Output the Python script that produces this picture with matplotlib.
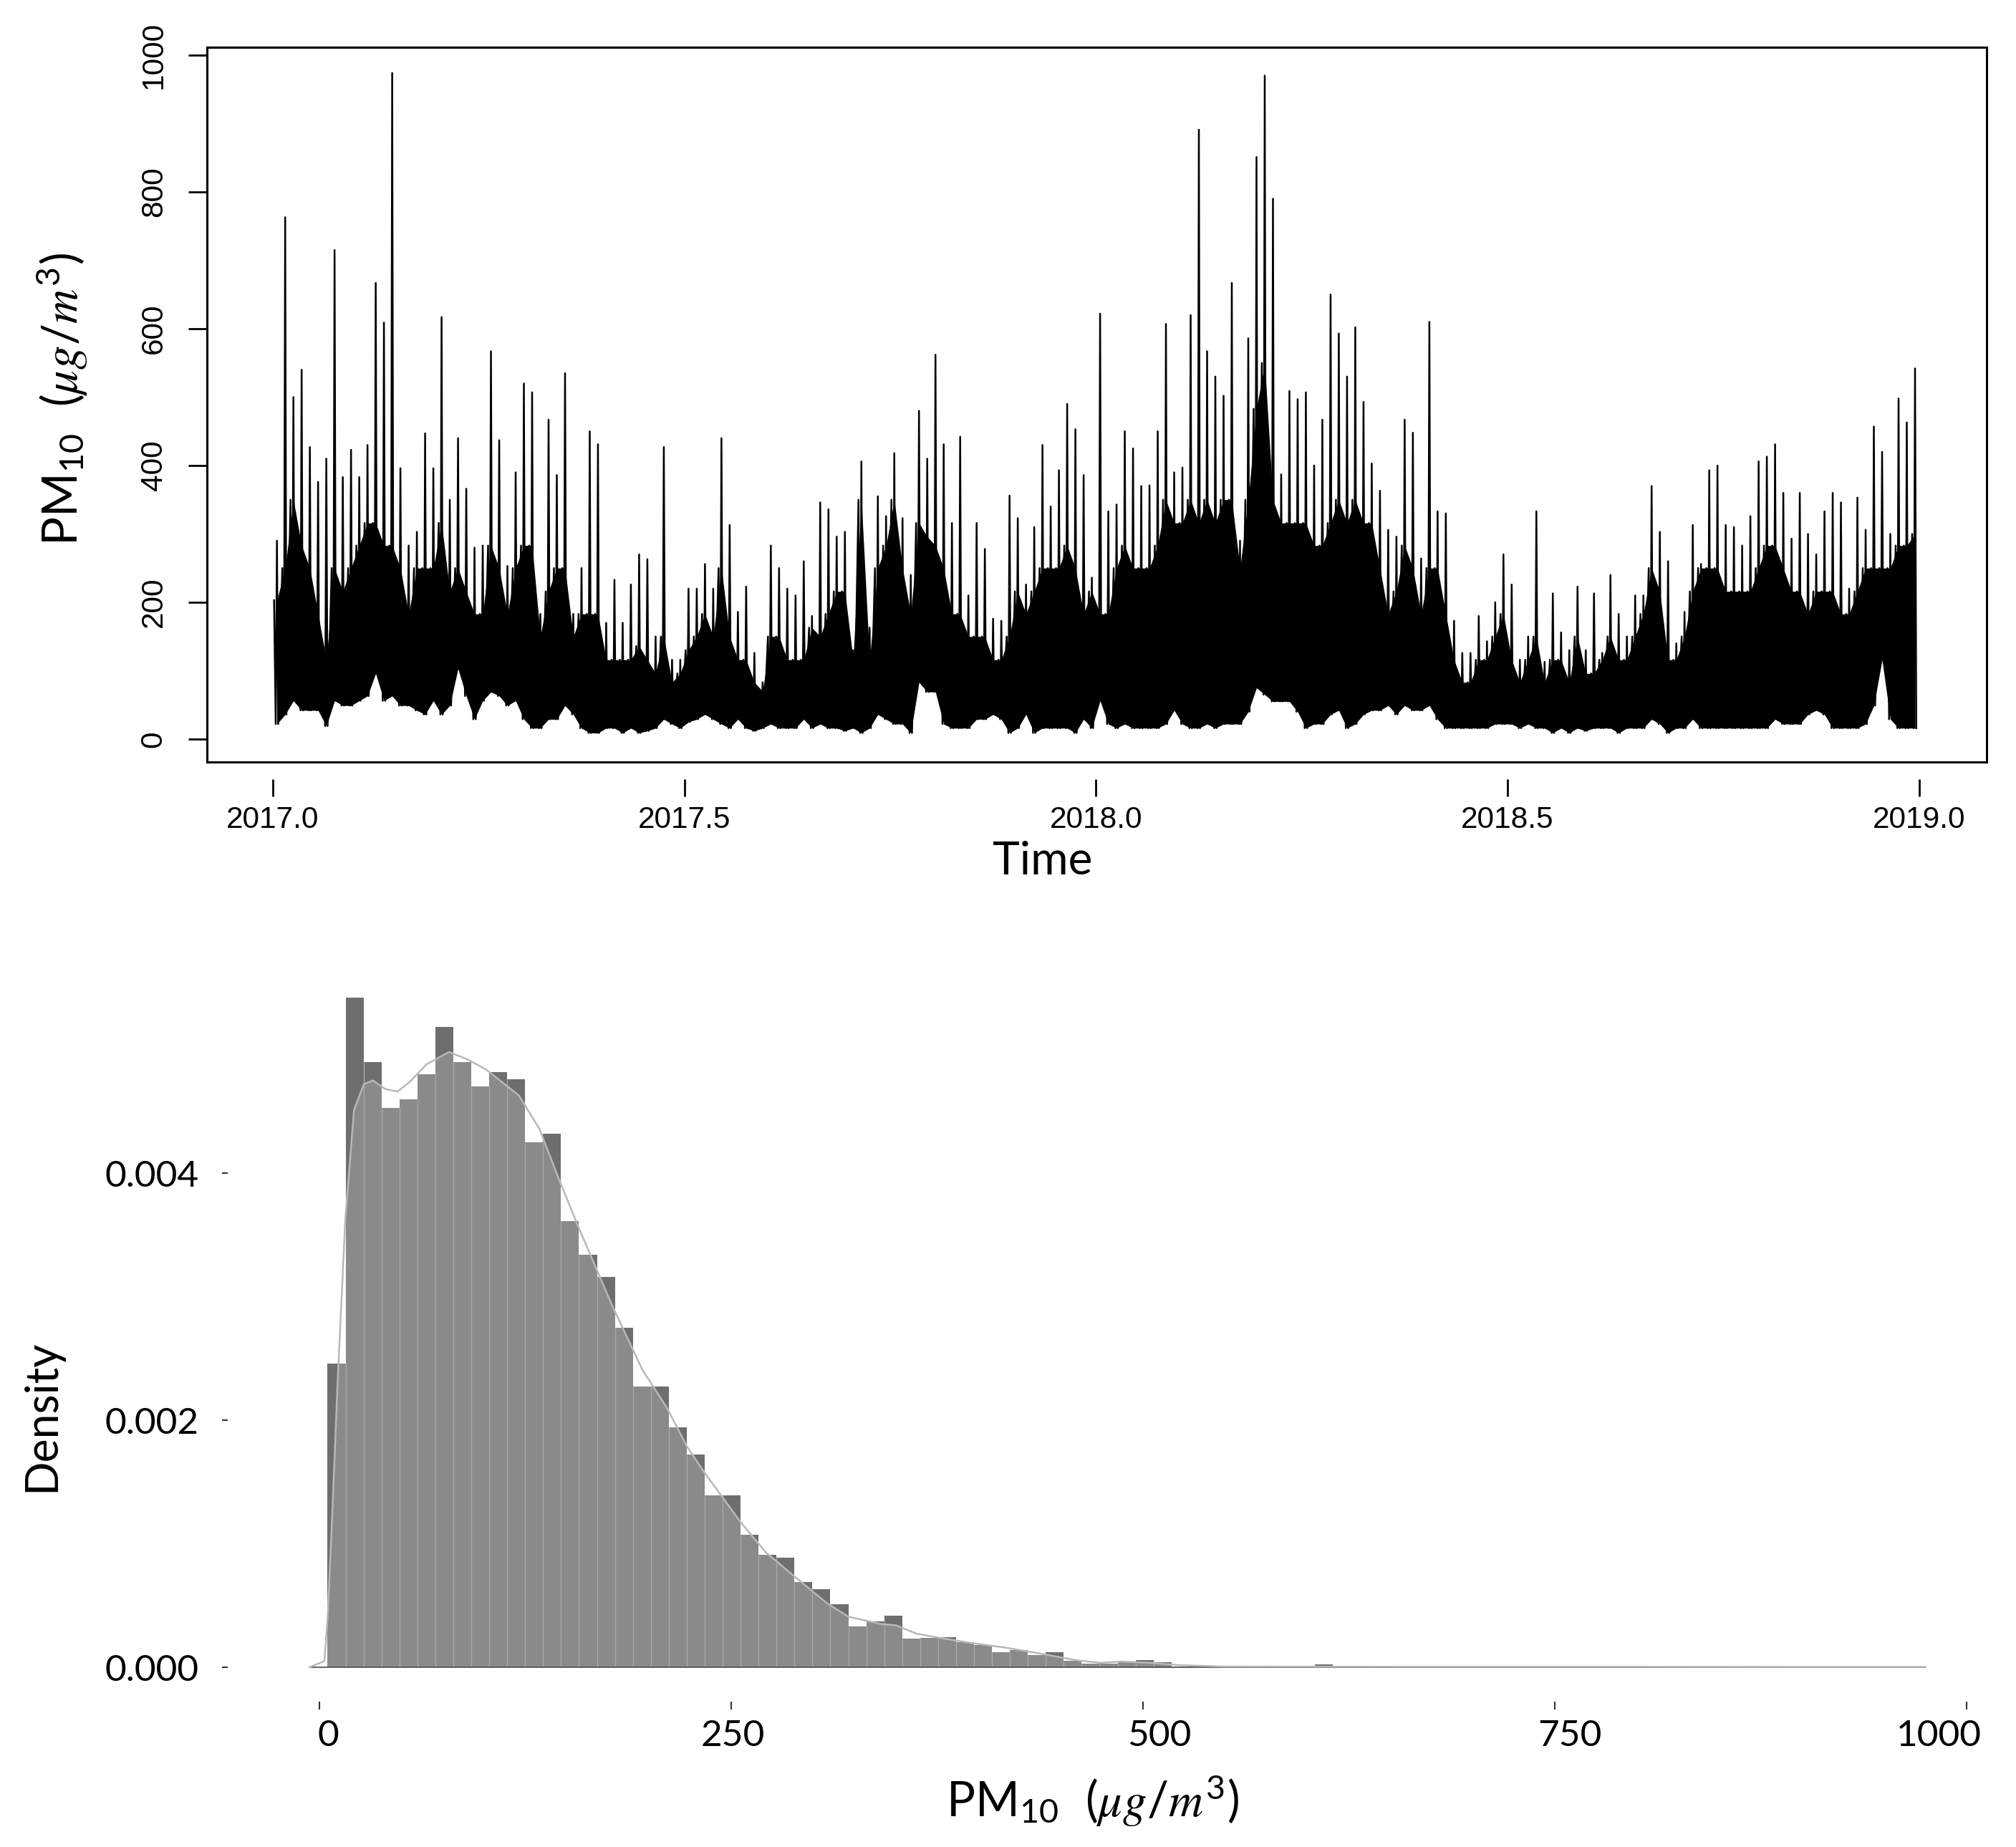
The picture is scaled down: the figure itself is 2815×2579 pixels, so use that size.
import numpy as np
import matplotlib
matplotlib.use("Agg")
import matplotlib.pyplot as plt
from matplotlib.transforms import ScaledTranslation

plt.rcParams["font.family"] = ["Lato", "DejaVu Sans"]
plt.rcParams["mathtext.fontset"] = "custom"
plt.rcParams["mathtext.rm"] = "Lato"
plt.rcParams["mathtext.it"] = "STIXGeneral:italic"
plt.rcParams["mathtext.bf"] = "Lato:bold"

# ---- hourly PM10 series, summarised per 0.01-year bin
# low = bottom of the trace, core = top of the dense band, peak = tallest spike
pm_low = [22, 36, 56, 42, 42, 42, 19, 56, 49, 49, 56, 63, 96, 56, 63, 49, 49, 42, 36, 56,
          36, 49, 103, 63, 29, 56, 69, 63, 49, 56, 29, 16, 16, 29, 29, 49, 36, 16, 9, 9,
          16, 16, 9, 16, 9, 12, 16, 29, 22, 16,
          25, 29, 36, 29, 22, 16, 29, 16, 12, 16, 22, 16, 16, 16, 29, 16, 22, 16, 16, 12,
          16, 9, 16, 36, 29, 22, 22, 9, 83, 69, 69, 22, 16, 16, 16, 29, 29, 36, 29, 9,
          16, 36, 9, 16, 16, 16, 16, 9, 29, 16,
          56, 22, 16, 22, 16, 16, 16, 16, 22, 42, 22, 16, 16, 22, 16, 22, 22, 22, 40, 75,
          65, 55, 55, 55, 40, 16, 22, 22, 36, 42, 16, 22, 36, 42, 42, 49, 36, 49, 42, 42,
          49, 29, 16, 16, 16, 16, 16, 16, 22, 22,
          22, 16, 22, 16, 16, 9, 16, 9, 16, 12, 16, 16, 16, 9, 16, 16, 16, 29, 22, 9,
          16, 16, 29, 16, 16, 16, 16, 16, 16, 16, 16, 16, 29, 22, 22, 22, 36, 42, 36, 16,
          16, 16, 16, 22, 49, 116, 29, 16, 16, 16]
pm_core = [203, 250, 350, 283, 250, 183, 116, 250, 216, 250, 283, 316, 316, 283, 283, 250, 183, 250, 250, 250,
           316, 216, 250, 216, 183, 183, 283, 250, 183, 250, 283, 283, 150, 216, 250, 250, 150, 183, 183, 183,
           116, 116, 116, 116, 136, 116, 96, 150, 83, 96,
           130, 150, 183, 150, 250, 150, 116, 116, 83, 70, 150, 150, 116, 116, 116, 163, 150, 183, 216, 216,
           116, 350, 116, 250, 283, 350, 250, 183, 316, 296, 283, 250, 183, 183, 150, 150, 150, 116, 116, 150,
           216, 183, 216, 250, 250, 250, 283, 250, 183, 216,
           183, 183, 250, 283, 250, 250, 250, 283, 350, 316, 316, 350, 316, 350, 316, 350, 350, 250, 350, 483,
           550, 350, 316, 316, 316, 316, 283, 283, 316, 350, 316, 350, 316, 316, 250, 183, 216, 283, 250, 183,
           250, 250, 183, 116, 83, 83, 116, 116, 150, 183,
           116, 83, 116, 150, 83, 116, 116, 83, 150, 96, 96, 116, 150, 116, 116, 150, 183, 250, 216, 116,
           116, 150, 216, 250, 250, 250, 216, 216, 216, 216, 250, 283, 283, 250, 216, 216, 183, 216, 216, 216,
           183, 183, 216, 250, 250, 250, 250, 283, 283, 300]
pm_peak = [290, 763, 500, 540, 427, 376, 410, 715, 383, 423, 383, 430, 667, 609, 974, 396, 283, 303, 447, 396,
           617, 350, 440, 366, 280, 283, 567, 437, 253, 390, 520, 507, 183, 467, 386, 535, 183, 250, 450, 431,
           170, 233, 170, 226, 270, 263, 150, 427, 116, 116,
           220, 220, 256, 220, 440, 313, 186, 223, 126, 83, 283, 250, 220, 210, 260, 180, 346, 336, 296, 303,
           130, 406, 163, 355, 326, 418, 323, 240, 480, 410, 562, 431, 316, 442, 210, 316, 278, 176, 173, 356,
           323, 226, 310, 430, 340, 393, 490, 453, 386, 236,
           622, 333, 343, 450, 425, 370, 371, 450, 607, 390, 397, 620, 891, 567, 530, 502, 667, 290, 586, 851,
           970, 790, 387, 509, 497, 507, 400, 467, 650, 593, 530, 602, 493, 403, 363, 306, 296, 467, 448, 264,
           610, 333, 330, 173, 126, 126, 180, 143, 200, 270,
           226, 116, 150, 333, 113, 213, 156, 130, 223, 130, 213, 126, 240, 183, 150, 210, 210, 370, 303, 260,
           140, 186, 313, 256, 393, 400, 313, 310, 283, 326, 406, 413, 431, 360, 293, 360, 300, 270, 333, 360,
           346, 220, 353, 306, 457, 420, 300, 498, 463, 542]
bin_years = 0.01
time_ticks = [2017.0, 2017.5, 2018.0, 2018.5, 2019.0]
pm_ticks = [0, 200, 400, 600, 800, 1000]

# ---- histogram of PM10 (density) and its kernel density curve
hist_start = 5.0
hist_width = 10.9
hist_density = [0.00246, 0.00542, 0.00490, 0.00453, 0.00460, 0.00480, 0.00518, 0.00490, 0.00470, 0.00482,
                0.00476, 0.00425, 0.00432, 0.00361, 0.00334, 0.00316, 0.00275, 0.00227, 0.00227, 0.00194,
                0.00172, 0.00139, 0.00139, 0.00107, 0.00091, 0.00089, 0.00069, 0.00063, 0.00051, 0.00033,
                0.00037, 0.00042, 0.00023, 0.000236, 0.000245, 0.000201, 0.000178, 0.00012, 0.000139, 0.000098,
                0.00012, 0.000054, 0.000027, 0.000027, 0.000046, 0.00006, 0.00004, 0.0000077, 0.000017, 0.000014,
                0.000002, 0.000006, 0.000004, 0.000006, 0.000008, 0.000023, 0.000014, 0.000002, 0.000002, 0.000005,
                0.000005, 0, 0, 0, 0, 0.000005, 0.000005, 0, 0, 0.000005,
                0, 0, 0.000005, 0.000005, 0, 0, 0.000005, 0, 0, 0.000005,
                0, 0.000005, 0, 0, 0, 0, 0, 0, 0.000005]
kde_x = [-6, 3, 5, 8, 11, 15.7, 21, 27, 32.5, 40, 47.4, 55, 65, 78.6, 90, 101, 121, 133.5, 146, 158,
         178, 196, 211, 223, 233, 256, 271, 288, 308, 321, 341, 350, 363, 376, 394, 416, 438, 460, 474, 487,
         505, 522, 549, 600, 700, 800, 900, 975]
kde_y = [0, 0.00005, 0.0004, 0.0013, 0.00229, 0.00362, 0.00451, 0.00472, 0.00475, 0.00468, 0.00466, 0.00474,
         0.00488, 0.00498, 0.00492, 0.00484, 0.00463, 0.00436, 0.00393, 0.00354, 0.00292, 0.00241, 0.0021,
         0.00179, 0.00159, 0.00117, 0.00093, 0.00074, 0.00052, 0.00041, 0.00035, 0.00034, 0.00027, 0.00024,
         0.0002, 0.00016, 0.00011, 0.000056, 0.000036, 0.000046, 0.000036, 0.000017, 0.000006, 0.000005,
         0.000004, 0.000004, 0.000003, 0.000003]
dens_ticks = [0, 0.002, 0.004]
dens_labels = ["0.000", "0.002", "0.004"]
x_ticks = [0, 250, 500, 750, 1000]
x_label_shift = [12, 2, 23, 21, -39]   # pixel offsets of the pasted tick labels

W, H = 2815, 2579
fig = plt.figure(figsize=(W / 100, H / 100), dpi=100)


def fx(px):
    return px / W


def fy(py):
    return 1 - py / H


# Time series panel
ax1 = fig.add_axes([fx(289), fy(1064), fx(2774) - fx(289), fy(66) - fy(1064)])
t = 2017.0 + bin_years / 2 + bin_years * np.arange(len(pm_low))
ax1.fill_between(t, pm_low, pm_core, color="black", lw=0)
# trace each bin as core -> low -> peak -> low so the band gets its ragged edges
zx, zy = [], []
for tk, lo, co, pk in zip(t, pm_low, pm_core, pm_peak):
    zx += [tk - 0.0035, tk - 0.0015, tk, tk + 0.0015]
    zy += [co, lo, pk, lo]
ax1.plot(zx, zy, color="black", lw=1.8)
ax1.set_xlim(2016.92, 2019.082)
ax1.set_ylim(-33.5, 1011.5)
for s in ax1.spines.values():
    s.set_linewidth(2.2)
ax1.set_yticks(pm_ticks)
ax1.set_yticklabels([str(v) for v in pm_ticks], rotation=90, va="center",
                    fontfamily="Liberation Sans", fontsize=30.5)
ax1.tick_params(axis="y", length=19, width=2, pad=20)
ax1.set_xticks([])
sec = ax1.secondary_xaxis(-0.024)
sec.set_xticks(time_ticks, ["%.1f" % v for v in time_ticks],
               fontfamily="Liberation Sans", fontsize=30.5)
sec.spines["bottom"].set_visible(False)
sec.tick_params(length=17, width=2, pad=10)

fig.text(fx(1456), fy(1203), "Time", fontsize=46, ha="center", va="center")
fig.text(fx(86), fy(557), r"PM$_{10}$  $(\mu g/m^3)$", fontsize=48,
         rotation=90, ha="center", va="center")

# Histogram panel
ax2 = fig.add_axes([fx(318), fy(2376), fx(2792) - fx(318), fy(1361) - fy(2376)])
edges = hist_start + hist_width * np.arange(len(hist_density) + 1)
ax2.bar(edges[:-1], hist_density, width=hist_width, align="edge",
        color="#6e6e6e", lw=0)
sep = np.minimum(hist_density[:-1], hist_density[1:])
ax2.vlines(edges[1:-1], 0, sep, color="#a8a8a8", lw=1.0)
ax2.fill_between(kde_x, kde_y, color="white", alpha=0.2, lw=0)
ax2.plot([kde_x[0], kde_x[-1]], [0, 0], color="#555555", lw=1.3)
ax2.plot(kde_x, kde_y, color="#b8b8b8", lw=1.8)
ax2.set_xlim(-55.65, 1020)
ax2.set_ylim(-0.000278, 0.0056058)
for s in ax2.spines.values():
    s.set_visible(False)
ax2.set_yticks(dens_ticks, dens_labels, fontsize=37)
ax2.set_xticks(x_ticks, [str(v) for v in x_ticks], fontsize=37)
ax2.tick_params(axis="y", length=6, width=1.5, pad=23, color="#333333")
ax2.tick_params(axis="x", length=8, width=1.5, pad=10, color="#333333")
for lab, dx in zip(ax2.get_xticklabels(), x_label_shift):
    lab.set_transform(lab.get_transform() + ScaledTranslation(dx / 100, 0, fig.dpi_scale_trans))

fig.text(fx(58), fy(1977), "Density", fontsize=45, rotation=90, ha="center", va="center")
fig.text(fx(1526), fy(2513), r"PM$_{10}$  $(\mu g/m^3)$", fontsize=48,
         ha="center", va="center")

fig.savefig("out.png", dpi=100)
